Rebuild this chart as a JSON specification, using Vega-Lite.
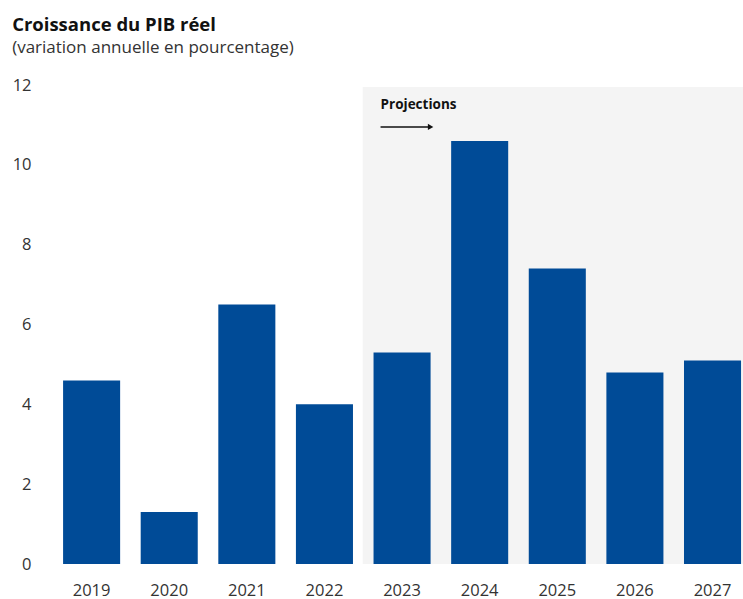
{
  "$schema": "https://vega.github.io/schema/vega-lite/v6.json",
  "width": 743,
  "height": 599,
  "autosize": {"type": "fit", "contains": "padding"},
  "padding": {"left": 12, "top": 15, "right": 0, "bottom": 0},
  "background": "white",
  "config": {
    "font": "Open Sans",
    "view": {"stroke": null}
  },
  "title": {
    "text": "Croissance du PIB réel",
    "subtitle": "(variation annuelle en pourcentage)",
    "anchor": "start",
    "frame": "bounds",
    "font": "Open Sans",
    "fontSize": 18.5,
    "fontWeight": "bold",
    "color": "#111111",
    "subtitleFont": "Open Sans",
    "subtitleFontSize": 17,
    "subtitleColor": "#333333",
    "subtitlePadding": 6,
    "offset": 21
  },
  "data": {
    "values": [
      {"year": "2019", "value": 4.6, "type": "Historique"},
      {"year": "2020", "value": 1.3, "type": "Historique"},
      {"year": "2021", "value": 6.5, "type": "Historique"},
      {"year": "2022", "value": 4.0, "type": "Historique"},
      {"year": "2023", "value": 5.3, "type": "Projection"},
      {"year": "2024", "value": 10.6, "type": "Projection"},
      {"year": "2025", "value": 7.4, "type": "Projection"},
      {"year": "2026", "value": 4.8, "type": "Projection"},
      {"year": "2027", "value": 5.1, "type": "Projection"}
    ]
  },
  "encoding": {
    "x": {
      "field": "year",
      "type": "ordinal",
      "title": null,
      "scale": {"paddingInner": 0.265, "paddingOuter": 0.084, "align": 0.85},
      "axis": {
        "labelAngle": 0,
        "labelFontSize": 16.5,
        "labelColor": "#333333",
        "labelPadding": 18,
        "ticks": false,
        "domain": false
      }
    }
  },
  "layer": [
    {
      "transform": [{"filter": "datum.type === 'Projection'"}],
      "mark": {"type": "bar", "color": "#f4f4f4", "width": {"band": 1.38}, "clip": true},
      "encoding": {
        "y": {"datum": 11.95, "type": "quantitative"},
        "y2": {"datum": 0}
      }
    },
    {
      "mark": {"type": "bar", "color": "#004b97"},
      "encoding": {
        "y": {
          "field": "value",
          "type": "quantitative",
          "title": null,
          "scale": {"domain": [0, 12]},
          "axis": {
            "values": [0, 2, 4, 6, 8, 10, 12],
            "labelFontSize": 16.5,
            "labelColor": "#333333",
            "labelPadding": 21,
            "ticks": false,
            "domain": false,
            "gridColor": {"condition": {"test": "datum.value === 0", "value": "#8a8a8a"}, "value": "#efefe8"},
            "gridWidth": {"condition": {"test": "datum.value === 0", "value": 1.5}, "value": 1}
          }
        }
      }
    },
    {
      "transform": [{"filter": "datum.year === '2023'"}],
      "mark": {"type": "text", "text": "Projections", "align": "left", "baseline": "middle", "fontSize": 13.5, "fontWeight": "bold", "color": "#111111", "dx": 7},
      "encoding": {
        "x": {"field": "year", "type": "ordinal", "bandPosition": 0},
        "y": {"datum": 11.5, "type": "quantitative"}
      }
    },
    {
      "transform": [{"filter": "datum.year === '2023'"}],
      "mark": {"type": "rule", "color": "#111111", "strokeWidth": 1.5, "xOffset": 7},
      "encoding": {
        "x": {"field": "year", "type": "ordinal", "bandPosition": 0},
        "x2": {"datum": "2023", "bandPosition": 1},
        "y": {"datum": 10.95, "type": "quantitative"}
      }
    },
    {
      "transform": [{"filter": "datum.year === '2023'"}],
      "mark": {"type": "point", "shape": "triangle-right", "filled": true, "color": "#111111", "size": 40, "opacity": 1},
      "encoding": {
        "x": {"field": "year", "type": "ordinal", "bandPosition": 1},
        "y": {"datum": 10.95, "type": "quantitative"}
      }
    }
  ]
}
